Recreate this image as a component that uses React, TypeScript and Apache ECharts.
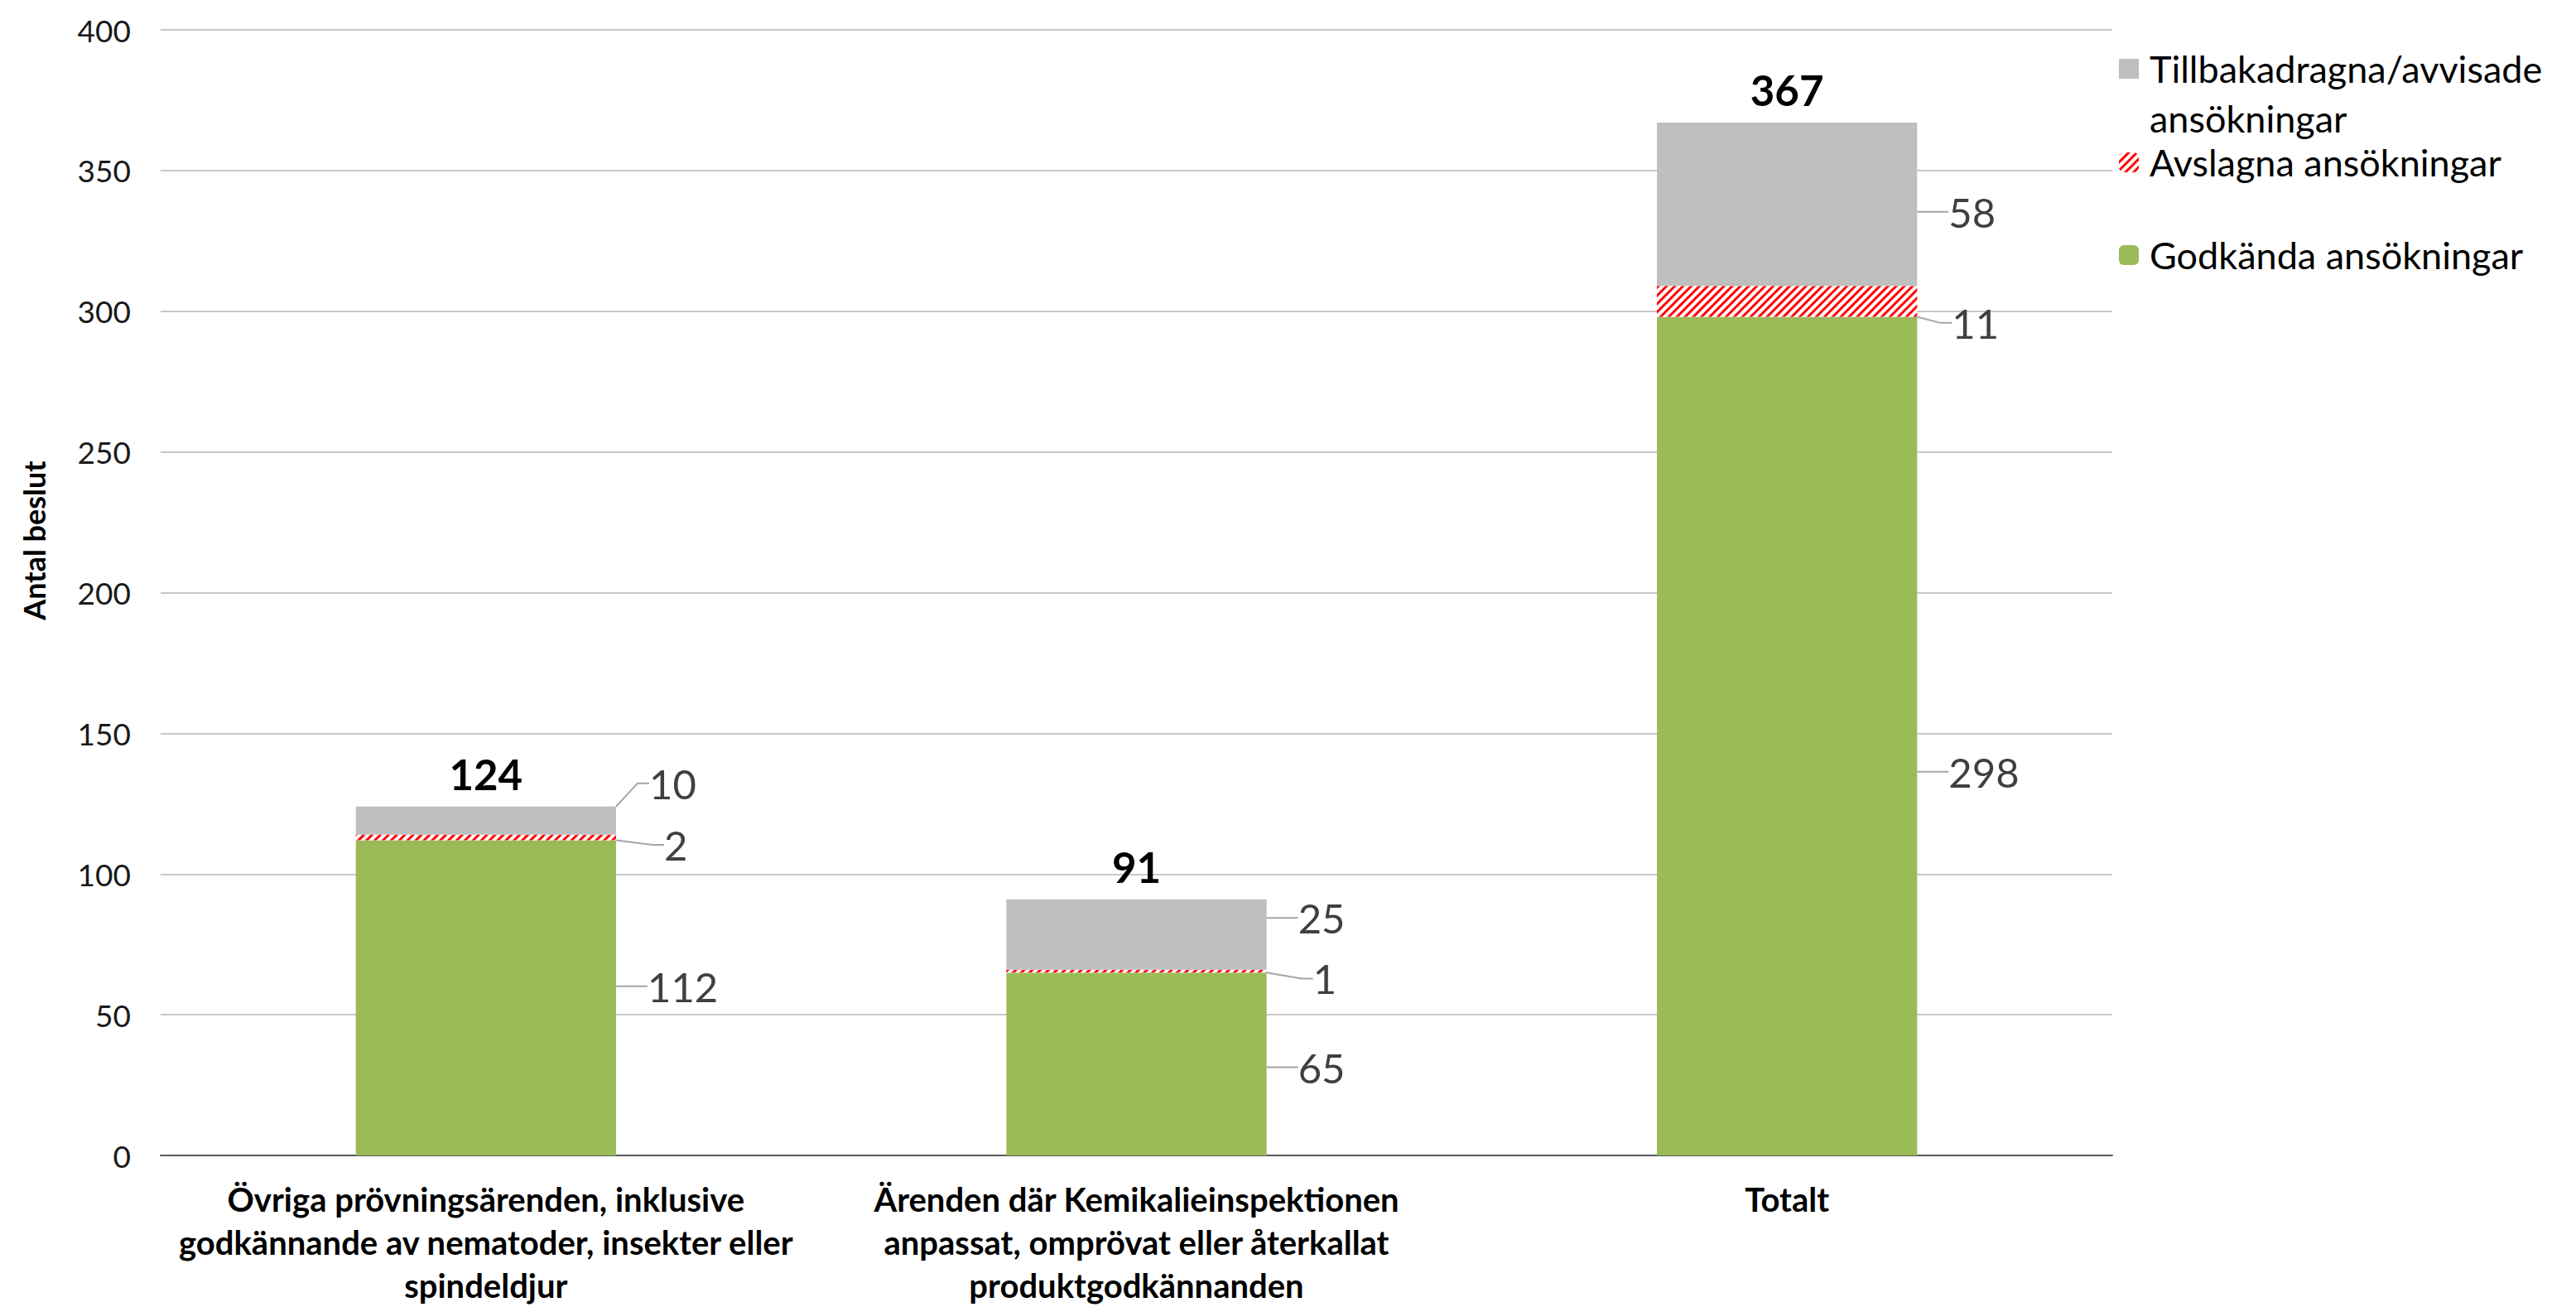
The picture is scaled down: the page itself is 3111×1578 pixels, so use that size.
import React, { useEffect, useRef } from "react";
import * as echarts from "echarts";

const categories = [
  "Övriga prövningsärenden, inklusive\ngodkännande av nematoder, insekter eller\nspindeldjur",
  "Ärenden där Kemikalieinspektionen\nanpassat, omprövat eller återkallat\nproduktgodkännanden",
  "Totalt",
];
const seriesNames = [
  "Godkända ansökningar",
  "Avslagna ansökningar",
  "Tillbakadragna/avvisade ansökningar",
];
const godkanda = [112, 65, 298];
const avslagna = [2, 1, 11];
const tillbakadragna = [10, 25, 58];
const totals = [124, 91, 367];
const yMin = 0;
const yMax = 400;
const yInterval = 50;

// label offsets (layout only), per series index
const labelDy: number[][] = [
  [-14, 4, 43],
  [9, 9, 26],
  [-45, -20, 9],
];
const labelDx: number[][] = [
  [0, 0, 0],
  [20, 18, 4],
  [2, 0, 0],
];

const FONT = 'Lato, "Noto Sans", sans-serif';

export default function App() {
  const ref = useRef<HTMLDivElement>(null);
  useEffect(() => {
    document.body.style.margin = "0";
    if (!ref.current) return;
    const chart = echarts.init(ref.current, undefined, { renderer: "svg" });
    const labelCommon = {
      show: true,
      position: "right" as const,
      distance: 38,
      fontFamily: FONT,
      fontSize: 49,
      color: "#404040",
    };
    const labelLine = {
      show: true,
      length2: 14,
      lineStyle: { color: "#a6a6a6", width: 2 },
    };
    const legendBase = {
      orient: "vertical",
      left: 2559,
      padding: 0,
      itemWidth: 24,
      itemHeight: 24,
      selectedMode: false,
      textStyle: { fontFamily: FONT, fontSize: 45, color: "#000", lineHeight: 60, padding: [0, 0, 0, 8] },
    };
    const mkLayout = (si: number) => (p: any) => ({
      dx: labelDx[si][p.dataIndex],
      dy: labelDy[si][p.dataIndex],
    });
    chart.setOption({
      animation: false,
      backgroundColor: "#ffffff",
      textStyle: { fontFamily: FONT },
      grid: { left: 194, right: 560, top: 36, bottom: 177, containLabel: false },
      legend: [
        {
          ...legendBase,
          top: 53,
          itemHeight: 84,
          icon: "path://M0,0L24,0L24,24L0,24Z M0,84L0.001,84L0,84Z",
          formatter: () => "Tillbakadragna/avvisade\nansökningar",
          data: [seriesNames[2]],
        },
        { ...legendBase, top: 166, data: [seriesNames[1]] },
        { ...legendBase, top: 278, data: [seriesNames[0]] },
      ],
      xAxis: {
        type: "category",
        data: categories,
        axisTick: { show: false },
        axisLine: { lineStyle: { color: "#595959", width: 2 } },
        axisLabel: {
          interval: 0,
          margin: 27,
          fontFamily: FONT,
          fontSize: 40,
          fontWeight: "bold",
          lineHeight: 52,
          color: "#000",
        },
      },
      yAxis: {
        type: "value",
        min: yMin,
        max: yMax,
        interval: yInterval,
        name: "Antal beslut",
        nameLocation: "middle",
        nameGap: 135,
        nameTextStyle: {
          fontFamily: FONT,
          fontSize: 36,
          fontWeight: "bold",
          color: "#000",
          padding: [0, 0, 0, 126],
        },
        axisLine: { show: false },
        axisTick: { show: false },
        axisLabel: { margin: 36, fontFamily: FONT, fontSize: 37, color: "#1a1a1a" },
        splitLine: { lineStyle: { color: "#c8c8c8", width: 2 } },
      },
      series: [
        {
          name: seriesNames[0],
          type: "bar",
          stack: "total",
          barWidth: "40%",
          barGap: "-100%",
          data: godkanda,
          itemStyle: { color: "#9bbb59" },
          label: labelCommon,
          labelLine,
          labelLayout: mkLayout(0),
        },
        {
          name: seriesNames[1],
          type: "bar",
          stack: "total",
          barWidth: "40%",
          barGap: "-100%",
          data: avslagna,
          itemStyle: {
            color: "#ffffff",
            decal: {
              symbol: "rect",
              symbolSize: 1,
              color: "#ff0000",
              dashArrayX: [1, 0],
              dashArrayY: [3, 4],
              rotation: -Math.PI / 4,
            },
          },
          label: labelCommon,
          labelLine,
          labelLayout: mkLayout(1),
        },
        {
          name: seriesNames[2],
          type: "bar",
          stack: "total",
          barWidth: "40%",
          barGap: "-100%",
          data: tillbakadragna,
          itemStyle: { color: "#bfbfbf" },
          label: labelCommon,
          labelLine,
          labelLayout: mkLayout(2),
        },
        {
          name: "Totalt",
          type: "bar",
          barWidth: "40%",
          barGap: "-100%",
          data: totals,
          silent: true,
          z: 1,
          itemStyle: { color: "rgba(0,0,0,0)" },
          label: {
            show: true,
            position: "top",
            distance: 14,
            fontFamily: FONT,
            fontSize: 51,
            fontWeight: "bold",
            color: "#000",
          },
        },
      ],
    });
    return () => chart.dispose();
  }, []);
  return <div ref={ref} style={{ width: 3111, height: 1578 }} />;
}
